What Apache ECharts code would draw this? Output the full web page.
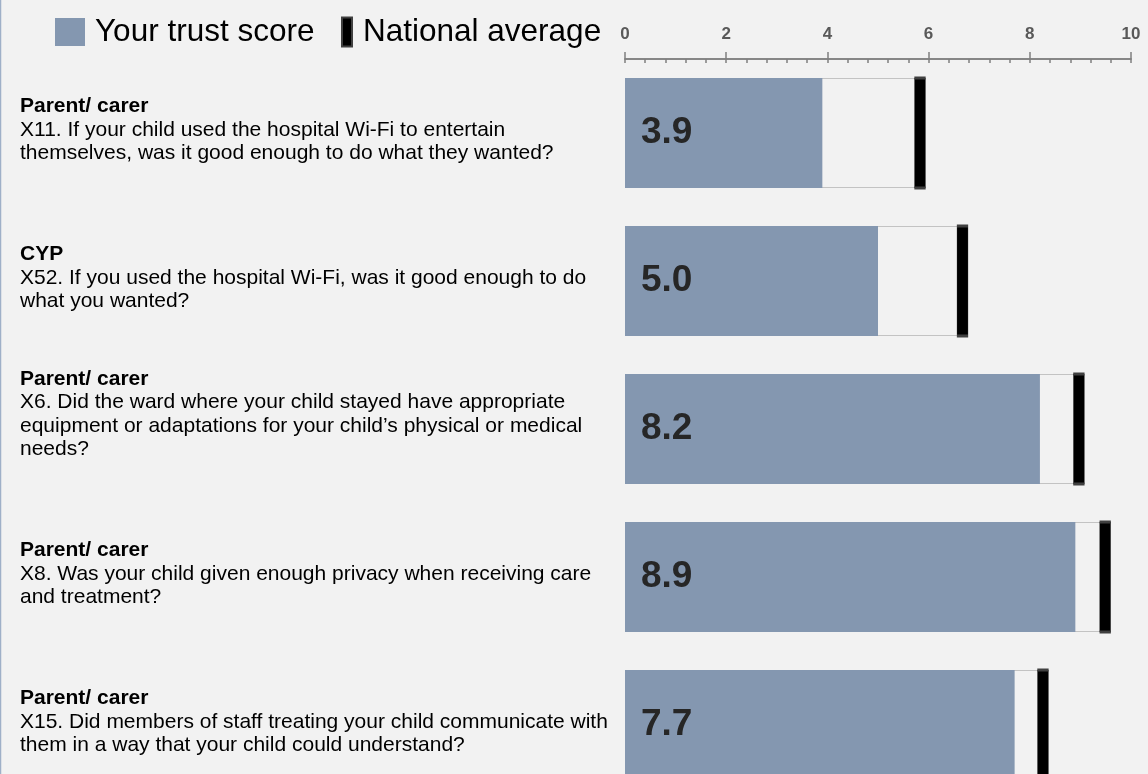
<!DOCTYPE html>
<html>
<head>
<meta charset="utf-8">
<script src="https://cdn.jsdelivr.net/npm/echarts@6/dist/echarts.min.js"></script>
<style>
  html, body { margin: 0; padding: 0; background: #f2f2f2; }
  #chart { width: 1148px; height: 774px; }
</style>
</head>
<body>
<div id="chart"></div>
<script>
// respondent group + question text (line breaks as in the report)
var groups = ['Parent/ carer', 'CYP', 'Parent/ carer', 'Parent/ carer', 'Parent/ carer'];
var questions = [
  'X11. If your child used the hospital Wi-Fi to entertain\nthemselves, was it good enough to do what they wanted?',
  'X52. If you used the hospital Wi-Fi, was it good enough to do\nwhat you wanted?',
  'X6. Did the ward where your child stayed have appropriate\nequipment or adaptations for your child\u2019s physical or medical\nneeds?',
  'X8. Was your child given enough privacy when receiving care\nand treatment?',
  'X15. Did members of staff treating your child communicate with\nthem in a way that your child could understand?'
];
var trustScore = [3.9, 5.0, 8.2, 8.9, 7.7];
var nationalAvg = [5.83, 6.67, 8.97, 9.49, 8.26];

var FONT = '"Liberation Sans", Arial, sans-serif';
var LINE_H = 23.5;

var myChart = echarts.init(document.getElementById('chart'));

// labels are anchored at the top of the row, so longer ones get pushed up
var yData = groups.map(function (g, i) {
  var lines = questions[i].split('\n').length + 1;
  return {
    value: g + '||' + questions[i],
    textStyle: {
      align: 'left',
      verticalAlign: 'middle',
      padding: [0, 0, 6 + (lines - 3) * LINE_H, 0]
    }
  };
});

var option = {
  backgroundColor: '#f2f2f2',
  textStyle: { fontFamily: FONT },
  animation: false,
  legend: [{
    data: [{ name: 'Your trust score', icon: 'rect' }],
    left: 55,
    top: 16,
    padding: 0,
    itemWidth: 30,
    itemHeight: 28,
    textStyle: { fontSize: 31.5, color: '#000', fontFamily: FONT, padding: [0, 0, 0, 5] }
  }, {
    data: [{ name: 'National average', icon: 'rect' }],
    left: 341,
    top: 16,
    padding: 0,
    itemWidth: 10,
    itemHeight: 29,
    textStyle: { fontSize: 31.5, color: '#000', fontFamily: FONT, padding: [0, 0, 0, 6] }
  }],
  grid: {
    left: 625,
    right: 17,
    top: 59,
    height: 740,
    containLabel: false,
    outerBoundsMode: 'none'
  },
  xAxis: [{
    type: 'value',
    position: 'top',
    min: 0,
    max: 10,
    interval: 2,
    axisLine: { show: true, lineStyle: { color: '#808080', width: 1.5 } },
    axisTick: { show: true, length: 7, lineStyle: { color: '#808080', width: 1.5 } },
    axisLabel: { color: '#595959', fontWeight: 'bold', fontSize: 17, margin: 16, fontFamily: FONT },
    splitLine: { show: false }
  }, {
    type: 'value',
    position: 'top',
    min: 0,
    max: 10,
    interval: 2,
    axisLine: { show: true, lineStyle: { color: '#808080', width: 1.5 } },
    axisTick: { show: true, inside: true, length: 4, lineStyle: { color: '#808080', width: 1.5 } },
    minorTick: { show: true, splitNumber: 5, length: 4, lineStyle: { color: '#808080', width: 1.5 } },
    axisLabel: { show: false },
    splitLine: { show: false }
  }],
  yAxis: {
    type: 'category',
    inverse: true,
    data: yData,
    axisLine: { show: false },
    axisTick: { show: false },
    axisLabel: {
      interval: 0,
      align: 'left',
      margin: 605,
      formatter: function (v) {
        var parts = v.split('||');
        return '{h|' + parts[0] + '}\n{q|' + parts[1] + '}';
      },
      rich: {
        h: { fontWeight: 'bold', fontSize: 21, lineHeight: LINE_H, color: '#000', fontFamily: FONT, align: 'left' },
        q: { fontSize: 21, lineHeight: LINE_H, color: '#000', fontFamily: FONT, align: 'left' }
      }
    }
  },
  series: [{
    name: 'avgBox',
    type: 'bar',
    data: nationalAvg,
    barWidth: 110,
    barGap: '-100%',
    silent: true,
    itemStyle: { color: '#f2f2f2', borderColor: '#c3c3c3', borderWidth: 1 },
    z: 1
  }, {
    name: 'Your trust score',
    type: 'bar',
    data: trustScore,
    barWidth: 110,
    barGap: '-100%',
    itemStyle: { color: '#8497b0' },
    label: {
      show: true,
      position: 'insideLeft',
      distance: 16,
      formatter: function (p) { return p.value.toFixed(1); },
      fontSize: 37,
      fontWeight: 'bold',
      color: '#262626',
      fontFamily: FONT
    },
    z: 2
  }, {
    name: 'National average',
    type: 'scatter',
    data: nationalAvg.map(function (v, i) { return [v, i]; }),
    symbol: 'rect',
    symbolSize: [11, 110],
    itemStyle: { color: '#000', opacity: 1, borderColor: '#404040', borderWidth: 1 },
    z: 3
  }],
  graphic: [{
    type: 'line',
    shape: { x1: 0.5, y1: 0, x2: 0.5, y2: 774 },
    style: { stroke: '#9fb0c8', lineWidth: 1.5 }
  }]
};

myChart.setOption(option);
</script>
</body>
</html>
